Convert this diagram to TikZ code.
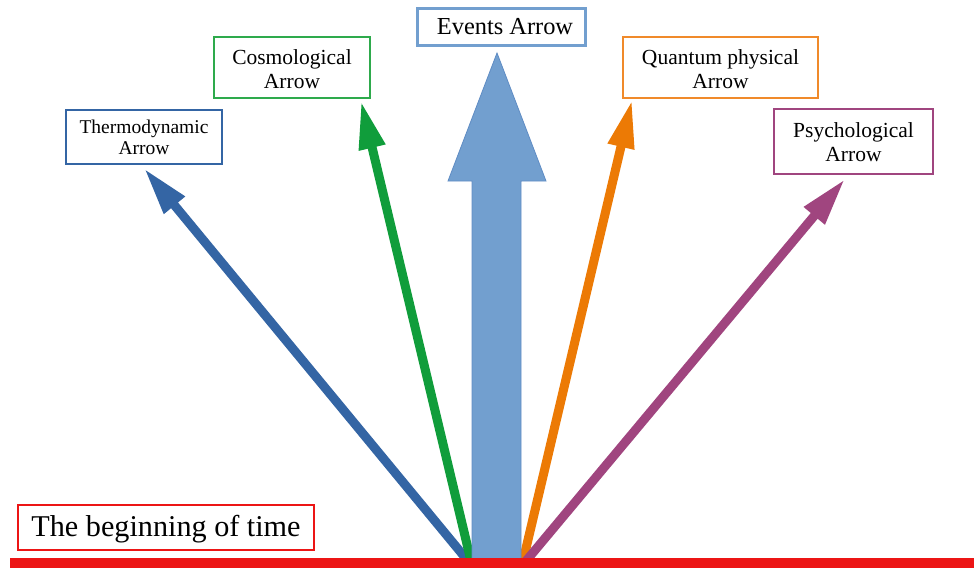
\documentclass[tikz,border=0pt]{standalone}
\usepackage{fontspec}
\setmainfont{Liberation Serif}
\usetikzlibrary{arrows.meta}
\definecolor{thermo}{HTML}{3465A4}
\definecolor{cosmo}{HTML}{109D3B}
\definecolor{cosmoline}{HTML}{2EAA4C}
\definecolor{quant}{HTML}{EC7A05}
\definecolor{quantline}{HTML}{F08A2A}
\definecolor{psych}{HTML}{A0457F}
\definecolor{events}{HTML}{729FCF}
\definecolor{eventsline}{HTML}{5F8CC4}
\definecolor{redline}{HTML}{EC1515}
\begin{document}
\begin{tikzpicture}[x=1pt,y=-1pt,
  lbox/.style={draw, line width=1.6pt, inner sep=0pt, align=center, fill=white},
  ray/.style={line width=9pt, -{Triangle[length=48pt,width=25pt]}, line cap=butt}]
\useasboundingbox (0,0) rectangle (974,568);

% label boxes
\node[lbox, draw=thermo, minimum width=156pt, minimum height=54pt,
      font=\fontsize{19.5}{21}\selectfont] (thermo) at (144,137) {Thermodynamic\\Arrow};
\node[lbox, draw=cosmoline, line width=2pt, minimum width=156pt, minimum height=61pt,
      font=\fontsize{21.5}{24}\selectfont] (cosmo) at (292,67.5) {\rule{0pt}{18pt}Cosmological\\Arrow};
\node[lbox, draw=quantline, line width=2pt, minimum width=195pt, minimum height=61pt,
      font=\fontsize{21.5}{24}\selectfont] (quant) at (720.5,67.5) {\rule{0pt}{18pt}Quantum physical\\Arrow};
\node[lbox, draw=psych, line width=2pt, minimum width=159pt, minimum height=65pt,
      font=\fontsize{21.5}{24}\selectfont] (psych) at (853.5,141.5) {\rule{0pt}{17pt}Psychological\\Arrow};
\node[lbox, draw=events, line width=3pt, minimum width=168pt, minimum height=37pt,
      font=\fontsize{24.4}{27}\selectfont] (eventsbox) at (501,27) {\hspace{8pt}Events Arrow};
\node[lbox, draw=redline, line width=2.6pt, minimum width=296pt, minimum height=45pt,
      font=\fontsize{30.2}{34}\selectfont] (begin) at (166,527.5) {\rule{0pt}{25pt}The beginning of time};

% origins of the arrows
\coordinate (b1) at (468,561);
\coordinate (b2) at (471,561);
\coordinate (b3) at (523,561);
\coordinate (b4) at (526,561);

% thin arrows
\draw[ray, thermo] (b1) -- ([yshift=-3.5pt]thermo.south);
\draw[ray, cosmo] (b2) -- ([shift={(-10pt,-2pt)}]cosmo.south east);
\draw[ray, quant] (b3) -- ([shift={(10pt,-1pt)}]quant.south west);
\draw[ray, psych] (b4) -- ([shift={(-8.5pt,-4pt)}]psych.south);

% big events arrow
\filldraw[fill=events, draw=eventsline, line width=0.8pt]
  (472,560) -- (472,181) -- (448,181) -- (497,53) -- (546,181) -- (521,181) -- (521,560) -- cycle;

% red time line
\fill[redline] (10,558) rectangle (974,568);
\end{tikzpicture}
\end{document}
